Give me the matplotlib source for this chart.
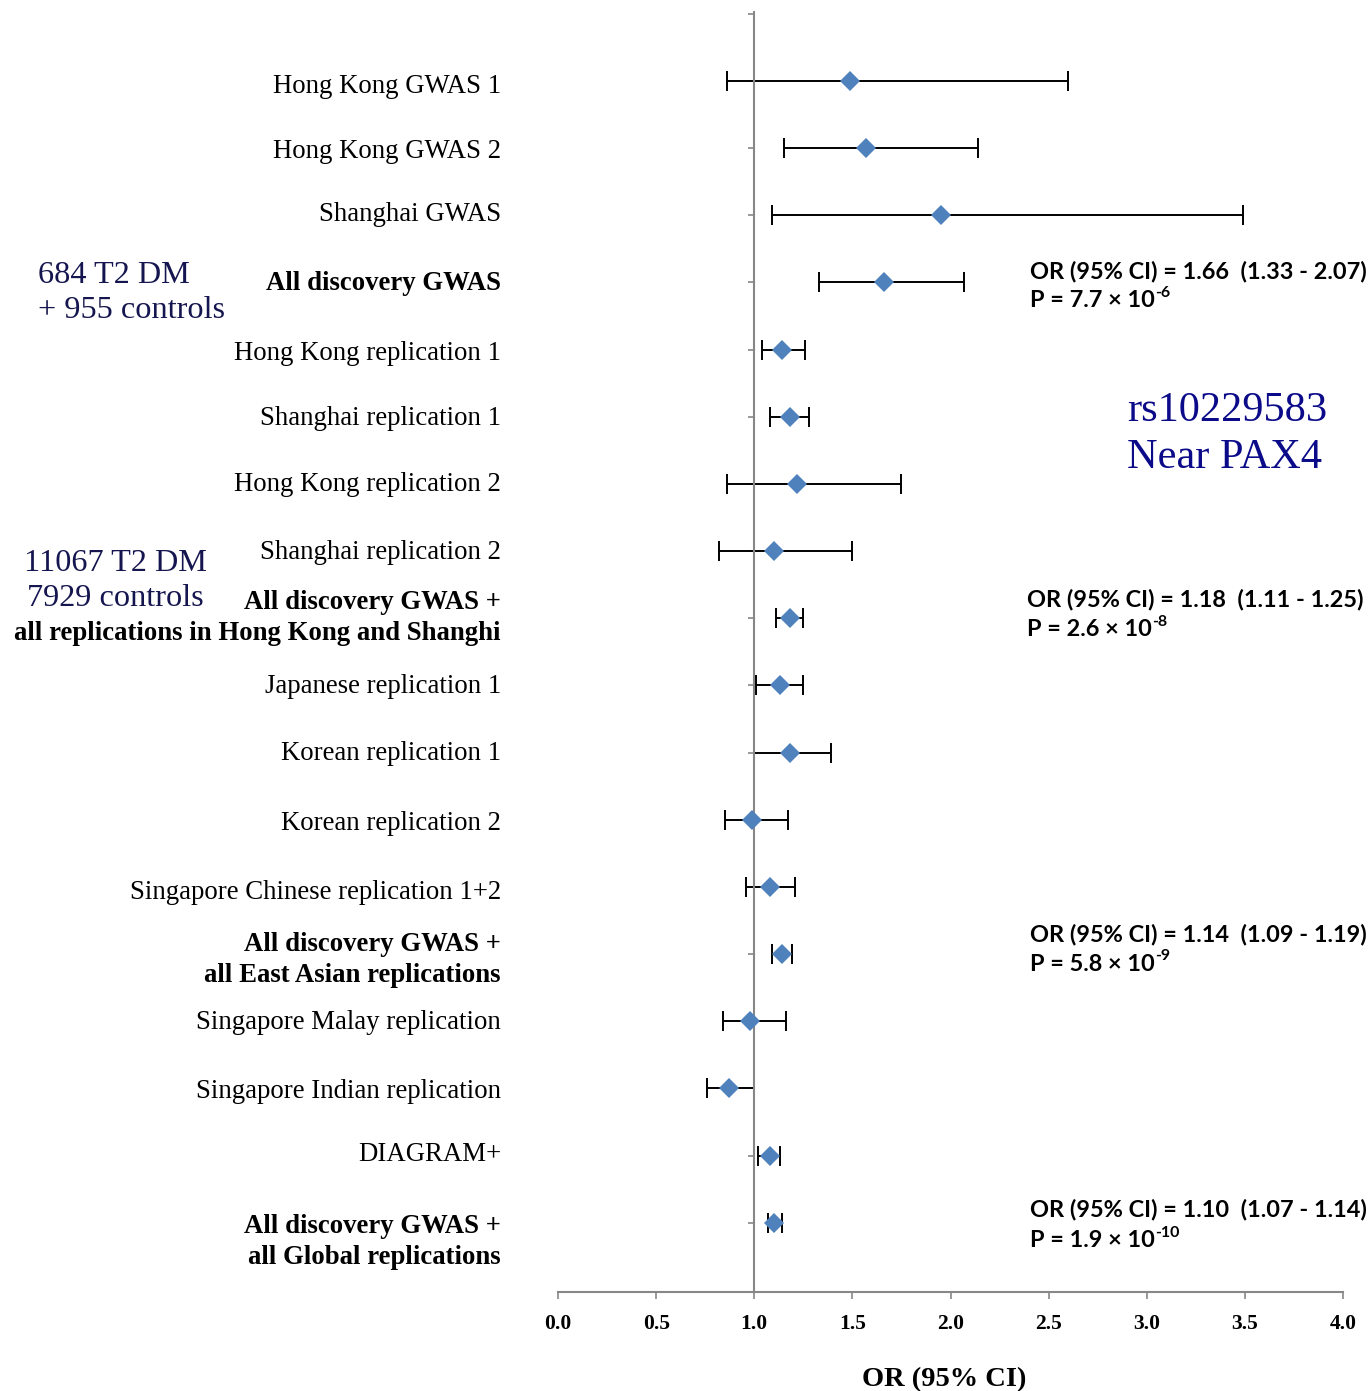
import numpy as np
import matplotlib
matplotlib.use('Agg')
import matplotlib.pyplot as plt
from matplotlib.transforms import blended_transform_factory

# per-study odds ratios with 95% confidence limits, top to bottom
studies = ['Hong Kong GWAS 1', 'Hong Kong GWAS 2', 'Shanghai GWAS',
           'All discovery GWAS', 'Hong Kong replication 1',
           'Shanghai replication 1', 'Hong Kong replication 2',
           'Shanghai replication 2',
           'All discovery GWAS +\nall replications in Hong Kong and Shanghi',
           'Japanese replication 1', 'Korean replication 1',
           'Korean replication 2', 'Singapore Chinese replication 1+2',
           'All discovery GWAS +\nall East Asian replications',
           'Singapore Malay replication', 'Singapore Indian replication',
           'DIAGRAM+',
           'All discovery GWAS +\nall Global replications']
pooled = [False, False, False, True, False, False, False, False, True,
          False, False, False, False, True, False, False, False, True]
odds = [1.49, 1.57, 1.95, 1.66, 1.14, 1.18, 1.22, 1.10, 1.18,
        1.13, 1.18, 0.99, 1.08, 1.14, 0.98, 0.87, 1.08, 1.10]
ci_lo = [0.86, 1.15, 1.09, 1.33, 1.04, 1.08, 0.86, 0.82, 1.11,
         1.01, 1.00, 0.85, 0.96, 1.09, 0.84, 0.76, 1.02, 1.07]
ci_hi = [2.60, 2.14, 3.49, 2.07, 1.26, 1.28, 1.75, 1.50, 1.25,
         1.25, 1.39, 1.17, 1.21, 1.19, 1.16, 1.00, 1.13, 1.14]

# pooled estimates printed on the right
pooled_or = ['1.66', '1.18', '1.14', '1.10']
pooled_ci = ['1.33 - 2.07', '1.11 - 1.25', '1.09 - 1.19', '1.07 - 1.14']
pooled_p = ['7.7', '2.6', '5.8', '1.9']
pooled_exp = ['-6', '-8', '-9', '-10']

xticks = np.arange(0, 4.01, 0.5)

W, H = 1369, 1391
fig = plt.figure(figsize=(W / 100, H / 100), dpi=100)
ax = fig.add_axes([558 / W, 1 - 1292 / H, 785 / W, 1280 / H])

rows = np.arange(1, len(studies) + 1)
grey = '#878787'
blue = '#4F81BD'

ax.errorbar(odds, rows, xerr=[np.array(odds) - np.array(ci_lo),
                              np.array(ci_hi) - np.array(odds)],
            fmt='none', ecolor='black', elinewidth=1.4, capsize=7,
            capthick=1.4, zorder=2)
ax.plot(odds, rows, 'D', color=blue, markersize=10, markeredgewidth=0,
        zorder=3)

ax.set_xlim(0, 4)
ax.set_ylim(19.03, -0.027)
for s in ['top', 'right']:
    ax.spines[s].set_visible(False)
ax.spines['left'].set_position(('data', 1))
ax.spines['left'].set_color(grey)
ax.spines['left'].set_linewidth(1.5)
ax.spines['bottom'].set_color(grey)
ax.spines['bottom'].set_linewidth(1.5)
ax.set_yticks(np.arange(0, 19))
ax.set_yticklabels([])
ax.tick_params(axis='y', direction='out', length=4.5, width=1.2, color=grey)
ax.set_xticks(xticks)
ax.set_xticklabels(['%.1f' % t for t in xticks], family='Liberation Serif',
                   fontweight='bold', fontsize=15.5)
ax.tick_params(axis='x', direction='out', length=5, width=1.2, color=grey,
               pad=11)
ax.set_xlabel('OR (95% CI)', family='Liberation Serif', fontweight='bold',
              fontsize=20.5)
ax.xaxis.set_label_coords(0.492, -0.059)

# study names, right aligned left of the plot; each line drawn separately
lab_tr = blended_transform_factory(fig.transFigure, ax.transData)
label_nudge = [0.08, 0.05, -0.01, 0.02, 0.06, 0.02, 0.01, 0.02, -0.23,
               0.02, 0.02, 0.05, 0.08, -0.14, 0.02, 0.05, -0.02, 0.05]
line_gap = 0.46
for r, name, b, dn in zip(rows, studies, pooled, label_nudge):
    for j, line in enumerate(name.split('\n')):
        ax.text(501 / W, r + dn + j * line_gap, line, transform=lab_tr,
                ha='right', va='center', family='Liberation Serif',
                fontsize=19.3, fontweight='bold' if b else 'normal')

# pooled OR and P values
or_nudge = [-0.17, -0.28, -0.3, -0.2]
p_nudge = [0.27, 0.17, 0.15, 0.27]
or_x = [1030, 1027, 1030, 1030]
for k, r in enumerate(rows[np.array(pooled)]):
    x0 = or_x[k] / W
    ax.text(x0, r + or_nudge[k],
            'OR (95%% CI) = %s  (%s)' % (pooled_or[k], pooled_ci[k]),
            transform=lab_tr, ha='left', va='center', family='Lato',
            fontweight='bold', fontsize=16.9)
    t = ax.text(x0, r + p_nudge[k], 'P = %s \u00d7 10' % pooled_p[k],
                transform=lab_tr, ha='left', va='center', family='Lato',
                fontweight='bold', fontsize=16.9)
    ax.annotate(pooled_exp[k], xy=(1.0, 0.55), xycoords=t, ha='left',
                va='bottom', family='Lato', fontweight='bold', fontsize=11.5)

navy = '#15154F'
fig.text(38 / W, 1 - 293 / H, '684 T2 DM\n+ 955 controls', ha='left',
         va='center', family='Liberation Serif', fontsize=23.2, color=navy,
         linespacing=1.26)
fig.text(115 / W, 1 - 581 / H, '11067 T2 DM\n7929 controls', ha='center',
         va='center', family='Liberation Serif', fontsize=23.2, color=navy,
         linespacing=1.3)
fig.text(1127 / W, 1 - 434 / H, 'rs10229583\nNear PAX4', ha='left',
         va='center', family='Liberation Serif', fontsize=30.5,
         color='#0B0B8A', linespacing=1.3)

plt.savefig('out.png', dpi=100)
